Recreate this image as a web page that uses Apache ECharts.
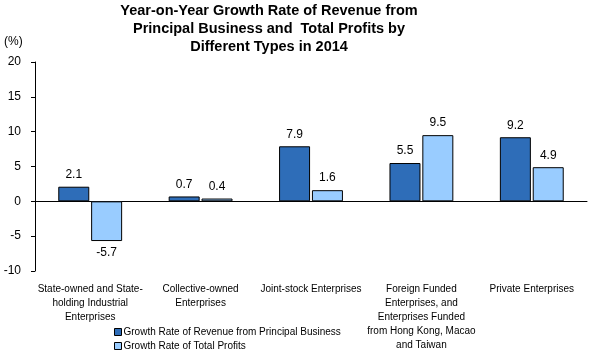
<!DOCTYPE html>
<html><head><meta charset="utf-8">
<script src="https://cdn.jsdelivr.net/npm/echarts@6/dist/echarts.min.js"></script>
<style>html,body{margin:0;padding:0;background:#fff}#c{width:591px;height:358px}</style>
</head><body><div id="c"></div>
<script>
const categories = ["State-owned and State-\nholding Industrial\nEnterprises","Collective-owned\nEnterprises","Joint-stock Enterprises","Foreign Funded\nEnterprises, and\nEnterprises Funded\nfrom Hong Kong, Macao\nand Taiwan","Private Enterprises"];
const revenueGrowth = [2.1, 0.7, 7.9, 5.5, 9.2];
const profitGrowth = [-5.7, 0.4, 1.6, 9.5, 4.9];
const seriesNames = ["Growth Rate of Revenue from Principal Business","Growth Rate of Total Profits"];
const chart = echarts.init(document.getElementById('c'));
const font = 'Arial, "Liberation Sans", sans-serif';
const lbl = {show:true, fontFamily:font, fontSize:12, color:'#000', formatter:p=>p.value.toFixed(1)};
chart.setOption({
  animation:false,
  title:{text:"Year-on-Year Growth Rate of Revenue from\nPrincipal Business and  Total Profits by\nDifferent Types in 2014", left:269, top:2, textAlign:'center', padding:0,
    textStyle:{fontFamily:font, fontSize:14.5, fontWeight:'bold', color:'#000', lineHeight:18}},
  graphic:[{type:'text', left:4, top:36, style:{text:'(%)', font:'12px '+font, fill:'#000'}}],
  legend:{orient:'vertical', left:114, top:327, padding:0, itemWidth:7, itemHeight:7, itemGap:4, icon:'rect', height:40,
    itemStyle:{borderColor:'#000', borderWidth:1},
    textStyle:{fontFamily:font, fontSize:10, color:'#000', padding:[0,0,0,-3]}},
  grid:{left:35, right:4, top:62, bottom:87},
  xAxis:[{type:'category', data:categories, axisLine:{onZero:true, lineStyle:{color:'#000'}}, axisTick:{show:false}, axisLabel:{show:false}},
         {type:'category', data:categories, position:'bottom', offset:0, axisLine:{show:false, onZero:false}, axisTick:{show:false},
          axisLabel:{fontFamily:font, fontSize:10, color:'#000', lineHeight:14, margin:11, interval:0}}],
  yAxis:{type:'value', min:-10, max:20, interval:5, splitLine:{show:false},
    axisLine:{show:true, lineStyle:{color:'#000'}}, axisTick:{show:true, inside:false, length:4, lineStyle:{color:'#000'}},
    axisLabel:{fontFamily:font, fontSize:12, color:'#000', margin:14}},
  series:[
    {name:seriesNames[0], type:'bar', data:revenueGrowth, barWidth:31, barGap:'6%',
     itemStyle:{color:'#2E6DB8', borderColor:'#000', borderWidth:1},
     label:Object.assign({position:'top', distance:6}, lbl)},
    {name:seriesNames[1], type:'bar', barWidth:31,
     data:profitGrowth.map(v=>v<0?{value:v,label:{position:'bottom'}}:v),
     itemStyle:{color:'#99CCFF', borderColor:'#000', borderWidth:1},
     label:Object.assign({position:'top', distance:6}, lbl)}
  ]
});
</script></body></html>
